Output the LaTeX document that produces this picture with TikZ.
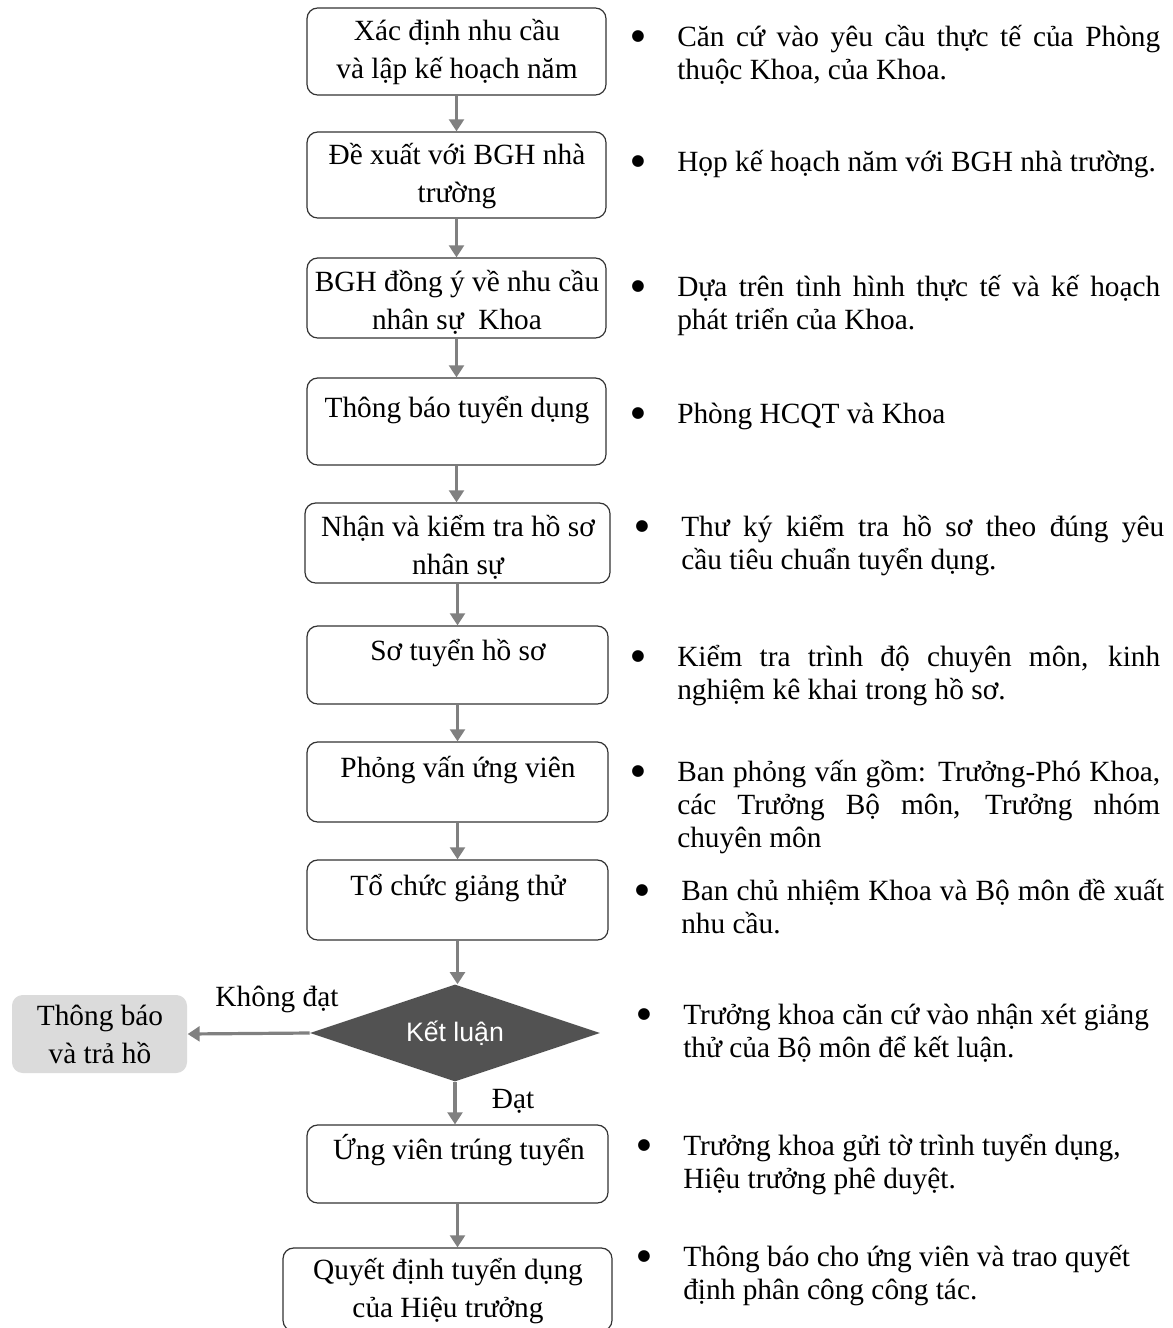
\documentclass[tikz,border=0pt]{standalone}
\usepackage{fontspec}
\setmainfont{Liberation Serif}
\newfontfamily\sansf{Liberation Sans}
\newfontfamily\dejavu{DejaVu Sans}
\usetikzlibrary{shapes.geometric,arrows.meta,fit}
\newcommand\bdot{\raisebox{4pt}{\dejavu\fontsize{11.5pt}{11.5pt}\selectfont ●}}
\newcommand\bitem[1]{\noindent\makebox[34.5pt][l]{\bdot}\parbox[t]{362.25pt}{\tolerance=9999\emergencystretch=20pt\rule{0pt}{22pt}#1}}
\begin{document}
\begin{tikzpicture}[x=0.75pt,y=-0.75pt,
  box/.style={draw=black!80,line width=0.9pt,rounded corners=8pt,inner sep=0pt},
  bt/.style={anchor=north,inner sep=0pt,align=center,
    font={\fontsize{22pt}{29pt}\selectfont}},
  rt/.style={anchor=north west,inner sep=0pt,text width=396.75pt,align=justify,
    font={\fontsize{22pt}{25pt}\selectfont}},
  arr/.style={draw=black!50,line width=2.4pt,-{Triangle[length=9pt,width=11pt]}},
  lbl/.style={font={\fontsize{22pt}{26pt}\selectfont},inner sep=0pt}
]
\useasboundingbox (0,0) rectangle (1173,1328);
% boxes
\node[box,fit={(307,8)(606,95)}] (b1) {};
\node[box,fit={(307,132)(606,218)}] (b2) {};
\node[box,fit={(307,258)(606,338)}] (b3) {};
\node[box,fit={(307,378)(606,465)}] (b4) {};
\node[box,fit={(305,503)(610,583)}] (b5) {};
\node[box,fit={(307,626)(608,704)}] (b6) {};
\node[box,fit={(307,742)(608,822)}] (b7) {};
\node[box,fit={(307,860)(608,940)}] (b8) {};
\node[diamond,aspect=3,fill=black!68,inner sep=0pt,minimum width=217.5pt,minimum height=72.75pt,
  text=white,font={\sansf\fontsize{20pt}{24pt}\selectfont}] (d) at (455,1033) {Kết luận};
\node[box,fit={(307,1125)(608,1203)}] (b9) {};
\node[box,fit={(283,1248)(612,1331)}] (b10) {};
\node[box,draw=none,fill=black!14,fit={(12,995)(187,1073)}] (lb) {};
% box texts
\node[bt] (t1) at (457,40-29.3) {\rule{0pt}{22pt}Xác định nhu cầu\\và lập kế hoạch năm};
\node[bt] (t2) at (457,164-29.3) {\rule{0pt}{22pt}Đề xuất với BGH nhà\\trường};
\node[bt] (t3) at (457,291-29.3) {\rule{0pt}{22pt}BGH đồng ý về nhu cầu\\nhân sự\ \ Khoa};
\node[bt] (t4) at (457,417-29.3) {\rule{0pt}{22pt}Thông báo tuyển dụng};
\node[bt] (t5) at (458,536-29.3) {\rule{0pt}{22pt}Nhận và kiểm tra hồ sơ\\nhân sự};
\node[bt] (t6) at (458,660-29.3) {\rule{0pt}{22pt}Sơ tuyển hồ sơ};
\node[bt] (t7) at (458,777-29.3) {\rule{0pt}{22pt}Phỏng vấn ứng viên};
\node[bt] (t8) at (458,895-29.3) {\rule{0pt}{22pt}Tổ chức giảng thử};
\node[bt] (t9) at (459,1159-29.3) {\rule{0pt}{22pt}Ứng viên trúng tuyển};
\node[bt] (t10) at (448,1279-29.3) {\rule{0pt}{22pt}Quyết định tuyển dụng\\của Hiệu trưởng};
\node[bt] (tl) at (100,1025-29.3) {\rule{0pt}{22pt}Thông báo\\và trả hồ};
% labels
\node[lbl] (kd) at (277,999) {Không đạt};
\node[lbl] (dat) at (513,1101) {Đạt};
% arrows
\draw[arr] (b1.south) -- (b1.south |- b2.north);
\draw[arr] (b2.south) -- (b2.south |- b3.north);
\draw[arr] (b3.south) -- (b3.south |- b4.north);
\draw[arr] (b4.south) -- (b4.south |- b5.north);
\draw[arr] (b5.south) -- (b5.south |- b6.north);
\draw[arr] (b6.south) -- (b6.south |- b7.north);
\draw[arr] (b7.south) -- (b7.south |- b8.north);
\draw[arr] (b8.south) -- (b8.south |- d.north);
\draw[arr] (d.south) -- (d.south |- b9.north);
\draw[arr] (b9.south) -- (b9.south |- b10.north);
\draw[arr] (d.west) -- (lb.east);
% right-hand notes
\node[rt] (r1) at (631,46-29.3) {\bitem{Căn cứ vào yêu cầu thực tế của Phòng\linebreak thuộc Khoa, của Khoa.}};
\node[rt] (r2) at (631,171-29.3) {\bitem{Họp kế hoạch năm với BGH nhà trường.}};
\node[rt] (r3) at (631,296-29.3) {\bitem{Dựa trên tình hình thực tế và kế hoạch\linebreak phát triển của Khoa.}};
\node[rt] (r4) at (631,423-29.3) {\bitem{Phòng HCQT và Khoa}};
\node[rt] (r5) at (635,536-29.3) {\bitem{Thư ký kiểm tra hồ sơ theo đúng yêu\linebreak cầu tiêu chuẩn tuyển dụng.}};
\node[rt] (r6) at (631,666-29.3) {\bitem{Kiểm tra trình độ chuyên môn, kinh\linebreak nghiệm kê khai trong hồ sơ.}};
\node[rt] (r7) at (631,781-29.3) {\bitem{Ban phỏng vấn gồm: Trưởng-Phó Khoa,\linebreak các Trưởng Bộ môn, Trưởng nhóm\linebreak chuyên môn}};
\node[rt] (r8) at (635,900-29.3) {\bitem{Ban chủ nhiệm Khoa và Bộ môn đề xuất\linebreak nhu cầu.}};
\node[rt] (r9) at (637,1024-29.3) {\bitem{Trưởng khoa căn cứ vào nhận xét giảng\newline thử của Bộ môn để kết luận.}};
\node[rt] (r10) at (637,1155-29.3) {\bitem{Trưởng khoa gửi tờ trình tuyển dụng,\newline Hiệu trưởng phê duyệt.}};
\node[rt] (r11) at (637,1266-29.3) {\bitem{Thông báo cho ứng viên và trao quyết\newline định phân công công tác.}};
\end{tikzpicture}
\end{document}
